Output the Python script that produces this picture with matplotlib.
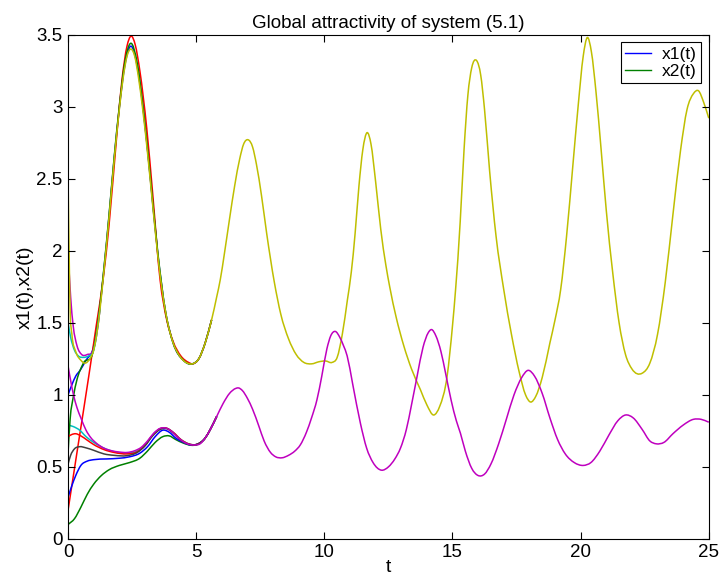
import matplotlib
matplotlib.use("Agg")
import matplotlib.pyplot as plt
from matplotlib.lines import Line2D
from matplotlib.path import Path
from matplotlib.patches import PathPatch

plt.rcParams['font.family'] = ['Liberation Sans', 'DejaVu Sans']

# ---- colours (classic MATLAB colour order) ----
C_B = (0.0, 0.0, 1.0)
C_G = (0.0, 0.5, 0.0)
C_R = (1.0, 0.0, 0.0)
C_C = (0.0, 0.75, 0.75)
C_M = (0.75, 0.0, 0.75)
C_Y = (0.75, 0.75, 0.0)
C_K = (0.25, 0.25, 0.25)

# ---- main trajectory x1(t) (yellow) ----
x1_t = [0.00, 0.04, 0.08, 0.15, 0.30, 0.50, 0.66, 0.85, 1.00, 1.10, 1.25, 1.40, 1.60, 1.80,
        2.00, 2.15, 2.30, 2.45, 2.60, 2.75, 2.90, 3.10, 3.30, 3.50, 3.70, 3.90, 4.10, 4.35,
        4.60, 4.85, 5.10, 5.35, 5.60, 5.80, 5.94, 6.10, 6.30, 6.50, 6.70, 6.85, 7.03, 7.20,
        7.35, 7.55, 7.75, 8.05, 8.30, 8.60, 8.90, 9.20, 9.50, 9.80, 10.05, 10.30, 10.50,
        10.70, 10.90, 11.05, 11.20, 11.35, 11.50, 11.67, 11.82, 12.00, 12.20, 12.40, 12.55,
        12.80, 13.10, 13.40, 13.75, 14.00, 14.27, 14.50, 14.79, 15.00, 15.12, 15.30, 15.45,
        15.60, 15.75, 15.94, 16.10, 16.25, 16.45, 16.70, 17.00, 17.30, 17.60, 17.85, 18.05,
        18.25, 18.50, 18.80, 19.00, 19.22, 19.45, 19.70, 19.90, 20.10, 20.26, 20.42, 20.60,
        20.80, 21.00, 21.25, 21.50, 21.75, 22.00, 22.40, 22.70, 23.00, 23.30, 23.60, 23.90,
        24.15, 24.40, 24.60, 24.80, 25.00]
x1_v = [2.50, 2.00, 1.60, 1.42, 1.30, 1.24, 1.22, 1.25, 1.31, 1.40, 1.60, 1.86, 2.23, 2.63,
        2.98, 3.20, 3.35, 3.40, 3.35, 3.20, 3.00, 2.68, 2.32, 1.97, 1.69, 1.49, 1.36, 1.27,
        1.225, 1.215, 1.25, 1.36, 1.52, 1.68, 1.80, 1.98, 2.22, 2.45, 2.64, 2.74, 2.77, 2.72,
        2.60, 2.38, 2.12, 1.78, 1.56, 1.39, 1.28, 1.225, 1.215, 1.23, 1.235, 1.225, 1.26,
        1.42, 1.66, 1.85, 2.12, 2.45, 2.70, 2.82, 2.74, 2.48, 2.15, 1.90, 1.75,
        1.54, 1.34, 1.18, 1.035, 0.93, 0.86, 0.92, 1.13, 1.48, 1.73, 2.20, 2.70,
        3.08, 3.27, 3.32, 3.22, 2.98, 2.55, 2.10, 1.73, 1.42, 1.16, 1.00, 0.95,
        0.99, 1.12, 1.36, 1.52, 1.73, 2.10, 2.60, 3.00, 3.35, 3.48, 3.38, 3.10,
        2.70, 2.28, 1.85, 1.50, 1.28, 1.18, 1.15, 1.22, 1.42, 1.78, 2.25, 2.70,
        2.98, 3.09, 3.11, 3.03, 2.92]

# ---- main trajectory x2(t) (magenta) ----
x2_t = [0.00, 0.10, 0.20, 0.35, 0.50, 0.70, 0.90, 1.10, 1.40, 1.70, 2.00, 2.30, 2.60, 2.85,
        3.10, 3.35, 3.60, 3.80, 4.00, 4.25, 4.50, 4.75, 4.95, 5.15, 5.35, 5.55, 5.80, 6.05,
        6.30, 6.55, 6.65, 6.80, 7.00, 7.20, 7.45, 7.65, 7.90, 8.10, 8.35, 8.60, 8.85, 9.06,
        9.30, 9.50, 9.71, 9.90, 10.10, 10.25, 10.43, 10.60, 10.75, 10.89, 11.10, 11.41,
        11.65, 11.90, 12.23, 12.50, 12.75, 12.97, 13.20, 13.40, 13.62, 13.85, 14.05, 14.18,
        14.35, 14.55, 14.73, 14.95, 15.15, 15.31, 15.50, 15.75, 16.00, 16.25, 16.50, 16.80,
        17.10, 17.40, 17.70, 17.95, 18.20, 18.50, 18.80, 19.10, 19.40, 19.75, 20.10, 20.40,
        20.75, 21.10, 21.45, 21.75, 22.05, 22.40, 22.70, 22.95, 23.25, 23.60, 24.00, 24.40,
        24.70, 25.00]
x2_v = [1.20, 1.10, 1.01, 0.91, 0.84, 0.755, 0.70, 0.665, 0.63, 0.612, 0.603, 0.600, 0.612,
        0.635, 0.68, 0.735, 0.768, 0.77, 0.752, 0.71, 0.675, 0.655, 0.652, 0.66, 0.70, 0.76,
        0.85, 0.94, 1.01, 1.045, 1.048, 1.03, 0.975, 0.90, 0.78, 0.68, 0.60, 0.57, 0.563,
        0.58, 0.61, 0.652, 0.74, 0.84, 0.965, 1.13, 1.32, 1.41, 1.44, 1.40, 1.34, 1.27,
        1.08, 0.80, 0.63, 0.53, 0.477, 0.50, 0.555, 0.63, 0.76, 0.93, 1.13, 1.33, 1.43,
        1.453, 1.41, 1.30, 1.15, 0.96, 0.82, 0.733, 0.61, 0.49, 0.44, 0.45, 0.52, 0.66,
        0.83, 1.00, 1.12, 1.17, 1.13, 1.01, 0.84, 0.69, 0.59, 0.53, 0.51, 0.53, 0.61,
        0.72, 0.82, 0.86, 0.84, 0.76, 0.68, 0.66, 0.67, 0.73, 0.79, 0.83, 0.83, 0.81]

# ---- transients of x1 from other initial values ----
x1_blue_t = [0.00, 0.15, 0.30, 0.47, 0.70, 0.99, 1.20, 1.40, 1.60, 1.80, 2.00, 2.20, 2.45,
             2.70, 2.95, 3.20, 3.50, 3.80, 4.10, 4.50, 4.85, 5.10, 5.35, 5.60]
x1_blue_v = [1.00, 1.07, 1.13, 1.17, 1.24, 1.33, 1.55, 1.87, 2.24, 2.64, 2.99, 3.27, 3.42,
             3.28, 2.95, 2.52, 1.98, 1.58, 1.36, 1.24, 1.215, 1.25, 1.36, 1.52]
x1_red_t = [0.00, 0.40, 0.80, 1.10, 1.38, 1.60, 1.90, 2.10, 2.30, 2.46, 2.62, 2.80, 3.07,
            3.30, 3.59, 3.85, 4.10, 4.40, 4.70, 4.85, 5.10, 5.35, 5.60]
x1_red_v = [0.20, 0.66, 1.12, 1.48, 1.82, 2.18, 2.80, 3.18, 3.42, 3.49, 3.43, 3.25, 2.85,
            2.40, 1.80, 1.52, 1.37, 1.27, 1.225, 1.215, 1.25, 1.36, 1.52]
x1_green_t = [0.00, 0.08, 0.21, 0.34, 0.60, 0.99, 1.20, 1.40, 1.60, 1.80, 2.00, 2.20, 2.45,
              2.70, 2.95, 3.20, 3.50, 3.80, 4.10, 4.50, 4.85, 5.10, 5.35, 5.60]
x1_green_v = [0.60, 0.83, 0.99, 1.10, 1.22, 1.31, 1.55, 1.88, 2.25, 2.65, 3.00, 3.29, 3.44,
              3.30, 2.96, 2.53, 1.99, 1.58, 1.36, 1.24, 1.215, 1.25, 1.36, 1.52]
x1_cyan_t = [0.00, 0.10, 0.25, 0.40, 0.60, 0.80, 1.00, 1.10, 1.25]
x1_cyan_v = [1.50, 1.40, 1.31, 1.27, 1.26, 1.27, 1.31, 1.40, 1.60]
x1_mag_t = [0.00, 0.10, 0.20, 0.35, 0.53, 0.75, 1.00, 1.10, 1.25]
x1_mag_v = [2.00, 1.68, 1.48, 1.34, 1.28, 1.28, 1.32, 1.40, 1.60]

# ---- transients of x2 from other initial values ----
x2_green_t = [0.00, 0.25, 0.50, 0.75, 1.00, 1.30, 1.60, 2.00, 2.40, 2.80, 3.10, 3.40, 3.70,
              3.95, 4.20, 4.50, 4.80, 5.05, 5.35, 5.55, 5.80]
x2_green_v = [0.10, 0.14, 0.22, 0.31, 0.38, 0.44, 0.48, 0.51, 0.53, 0.56, 0.61, 0.67, 0.71,
              0.715, 0.69, 0.665, 0.65, 0.655, 0.70, 0.76, 0.85]
x2_blue_t = [0.00, 0.15, 0.30, 0.50, 0.75, 1.00, 1.50, 2.00, 2.40, 2.80, 3.10, 3.40, 3.70,
             3.95, 4.20, 4.50, 4.80, 5.05, 5.35, 5.55, 5.80]
x2_blue_v = [0.29, 0.37, 0.44, 0.51, 0.54, 0.55, 0.555, 0.56, 0.57, 0.595, 0.64, 0.71, 0.755,
             0.74, 0.70, 0.67, 0.652, 0.658, 0.70, 0.76, 0.85]
x2_gray_t = [0.00, 0.10, 0.25, 0.45, 0.70, 1.00, 1.40, 1.80, 2.30, 2.70, 3.00, 3.30, 3.60,
             3.85, 4.10, 4.40, 4.70, 5.00, 5.35, 5.55, 5.80]
x2_gray_v = [0.52, 0.58, 0.625, 0.64, 0.632, 0.615, 0.59, 0.58, 0.578, 0.60, 0.645, 0.715,
             0.76, 0.765, 0.735, 0.685, 0.658, 0.655, 0.70, 0.76, 0.85]
x2_red_t = [0.00, 0.15, 0.30, 0.50, 0.75, 1.00, 1.40, 1.80, 2.30, 2.70, 3.00, 3.30, 3.60,
            3.85, 4.10, 4.40, 4.70, 5.00, 5.35, 5.55, 5.80]
x2_red_v = [0.71, 0.725, 0.73, 0.715, 0.685, 0.655, 0.62, 0.60, 0.59, 0.605, 0.65, 0.72,
            0.765, 0.768, 0.74, 0.69, 0.66, 0.655, 0.70, 0.76, 0.85]
x2_cyan_t = [0.00, 0.20, 0.45, 0.70, 1.00, 1.40, 1.80, 2.30, 2.70, 3.00, 3.30, 3.60, 3.85,
             4.10, 4.40, 4.70, 5.00, 5.35, 5.55, 5.80]
x2_cyan_v = [0.79, 0.78, 0.755, 0.71, 0.67, 0.63, 0.605, 0.595, 0.61, 0.65, 0.72, 0.765,
             0.768, 0.74, 0.69, 0.66, 0.655, 0.70, 0.76, 0.85]

x_ticks = [0, 5, 10, 15, 20, 25]
y_ticks = [0, 0.5, 1, 1.5, 2, 2.5, 3, 3.5]
y_ticklabels = ['0', '0.5', '1', '1.5', '2', '2.5', '3', '3.5']


def smooth_path(t, v):
    """Smooth rendering (cubic Hermite in Bezier form) through the read points."""
    n = len(t)
    m = []
    for i in range(n):
        if i == 0:
            m.append((v[1] - v[0]) / (t[1] - t[0]))
        elif i == n - 1:
            m.append((v[-1] - v[-2]) / (t[-1] - t[-2]))
        else:
            h0 = t[i] - t[i - 1]
            h1 = t[i + 1] - t[i]
            s0 = (v[i] - v[i - 1]) / h0
            s1 = (v[i + 1] - v[i]) / h1
            m.append((s0 * h1 + s1 * h0) / (h0 + h1))
    verts = [(t[0], v[0])]
    codes = [Path.MOVETO]
    for i in range(n - 1):
        h = t[i + 1] - t[i]
        verts += [(t[i] + h / 3, v[i] + m[i] * h / 3),
                  (t[i + 1] - h / 3, v[i + 1] - m[i + 1] * h / 3),
                  (t[i + 1], v[i + 1])]
        codes += [Path.CURVE4] * 3
    return Path(verts, codes)


def draw(ax, t, v, color, lw=1.0):
    ax.add_patch(PathPatch(smooth_path(t, v), fill=False, edgecolor=color,
                           lw=lw, capstyle='butt', joinstyle='round'))


fig = plt.figure(figsize=(7.24, 5.77), dpi=100)
ax = fig.add_axes([0.094, 0.066, 0.885, 0.874])

lw = 1.1
draw(ax, x1_blue_t, x1_blue_v, C_B, lw)
draw(ax, x2_green_t, x2_green_v, C_G, lw)
draw(ax, x1_red_t, x1_red_v, C_R, lw)
draw(ax, x2_cyan_t, x2_cyan_v, C_C, lw)
draw(ax, x1_mag_t, x1_mag_v, C_M, lw)
draw(ax, x2_blue_t, x2_blue_v, C_B, lw)
draw(ax, x1_green_t, x1_green_v, C_G, lw)
draw(ax, x2_red_t, x2_red_v, C_R, lw)
draw(ax, x1_cyan_t, x1_cyan_v, C_C, lw)
draw(ax, x2_gray_t, x2_gray_v, C_K, lw)
draw(ax, x1_t, x1_v, C_Y, lw)
draw(ax, x2_t, x2_v, C_M, lw)

ax.set_xlim(0, 25)
ax.set_ylim(0, 3.5)
ax.set_xticks(x_ticks)
ax.set_yticks(y_ticks)
ax.set_yticklabels(y_ticklabels)
ax.tick_params(direction='in', top=True, right=True, length=5, width=0.8,
               labelsize=13.5, colors='black', pad=4)
for s in ax.spines.values():
    s.set_linewidth(0.8)
    s.set_color('black')

ax.set_title('Global attractivity of system (5.1)', fontsize=13.5, pad=5)
ax.set_xlabel('t', fontsize=14, labelpad=-2)
ax.set_ylabel('x1(t),x2(t)', fontsize=14, labelpad=2)

handles = [Line2D([0], [0], color=C_B, lw=1.0), Line2D([0], [0], color=C_G, lw=1.0)]
leg = ax.legend(handles, ['x1(t)', 'x2(t)'], loc='upper right', fontsize=12.5,
                fancybox=False, edgecolor='black', framealpha=1,
                borderaxespad=0.45, handlelength=1.5, borderpad=0.25,
                labelspacing=0.1, handletextpad=0.6)
leg.get_frame().set_linewidth(0.8)

fig.savefig('out.png', dpi=100)
